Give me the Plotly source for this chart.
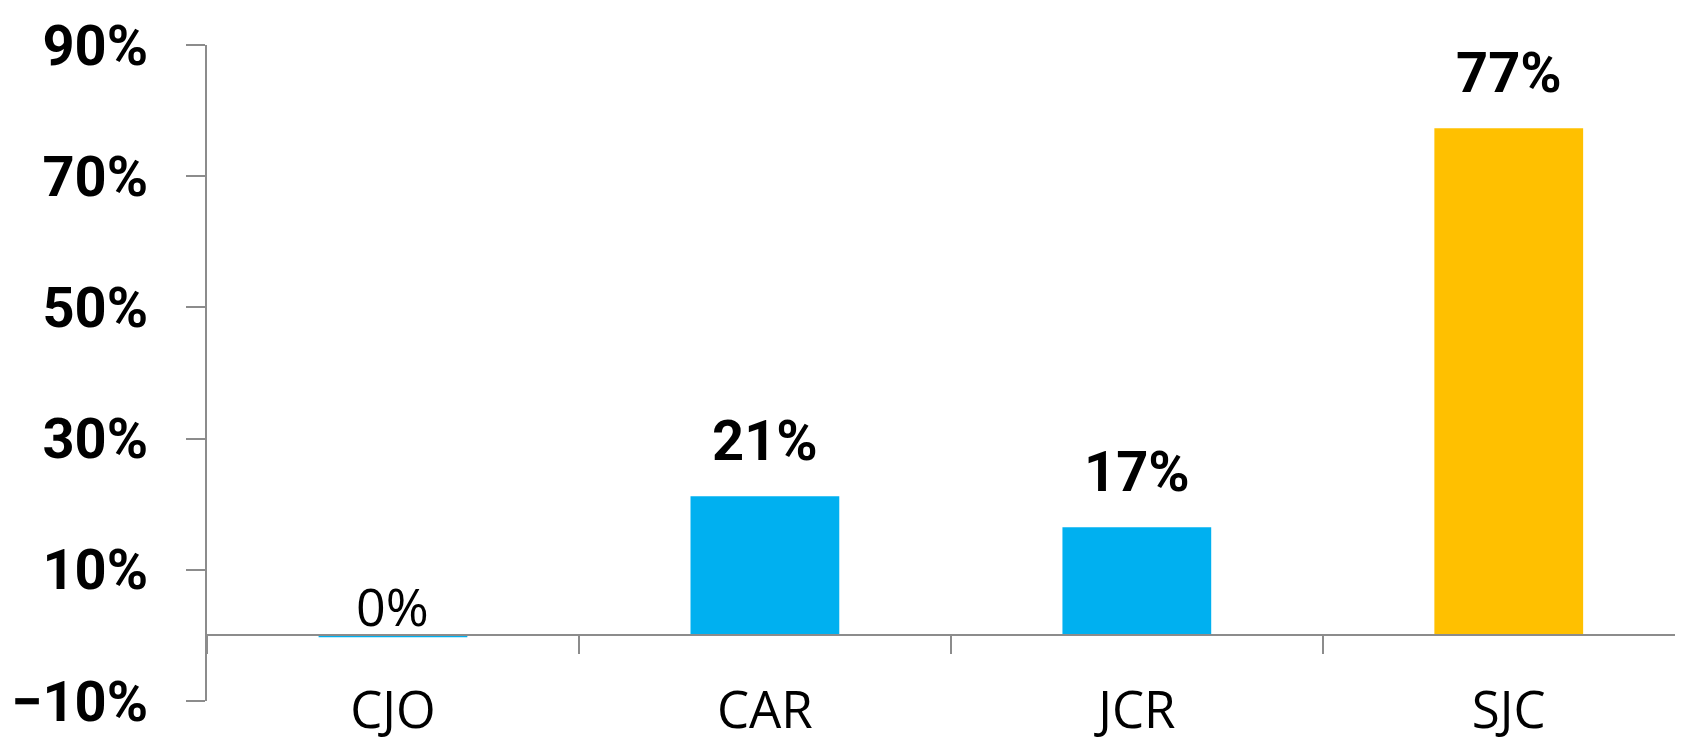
import plotly.graph_objects as go

categories = ["CJO", "CAR", "JCR", "SJC"]
values = [-0.3, 21.2, 16.5, 77.3]
label_texts = ["0%", "21%", "17%", "77%"]
bar_colors = ["#00B0F0", "#00B0F0", "#00B0F0", "#FFC000"]
y_ticks = [-10, 10, 30, 50, 70, 90]
y_tick_text = ["\u221210%", "10%", "30%", "50%", "70%", "90%"]

AXIS = "#8C8C8C"

fig = go.Figure()
fig.add_trace(go.Bar(
    x=categories, y=values, marker=dict(color=bar_colors, line=dict(width=0)),
    hoverinfo="skip", showlegend=False,
))

for cat, v, t in zip(categories, values, label_texts):
    small = v <= 0.5
    fig.add_annotation(
        x=cat, y=max(v, 0), text=t, showarrow=False,
        xanchor="center", yanchor="bottom",
        yshift=-8 if small else 20,
        font=dict(family="Open Sans" if small else "Roboto",
                  size=52 if small else 56,
                  color="#000000", weight="normal" if small else "bold"),
    )

fig.update_layout(
    width=1683, height=741,
    margin=dict(l=199, r=0, t=37, b=48),
    paper_bgcolor="white", plot_bgcolor="white",
    bargap=0.6,
    showlegend=False,
)

fig.update_yaxes(
    range=[-10, 90], tickvals=y_ticks, ticktext=y_tick_text,
    automargin=False,
    showgrid=False, zeroline=False,
    showline=True, linecolor=AXIS, linewidth=1.5,
    ticks="outside", ticklen=19, tickcolor=AXIS, tickwidth=1.5,
    ticklabelstandoff=27,
    tickfont=dict(family="Roboto", size=56, color="#000000", weight="bold"),
)

fig.update_xaxes(
    type="category", range=[-0.5, 3.49],
    automargin=False,
    anchor="free", position=0.1,
    showgrid=False, zeroline=False,
    showline=True, linecolor=AXIS, linewidth=1.5,
    ticks="outside", ticklen=18, tickcolor=AXIS, tickwidth=1.5,
    tickson="boundaries",
    ticklabelstandoff=31,
    tickfont=dict(family="Open Sans", size=51, color="#000000"),
)

fig.write_html("out.html")
